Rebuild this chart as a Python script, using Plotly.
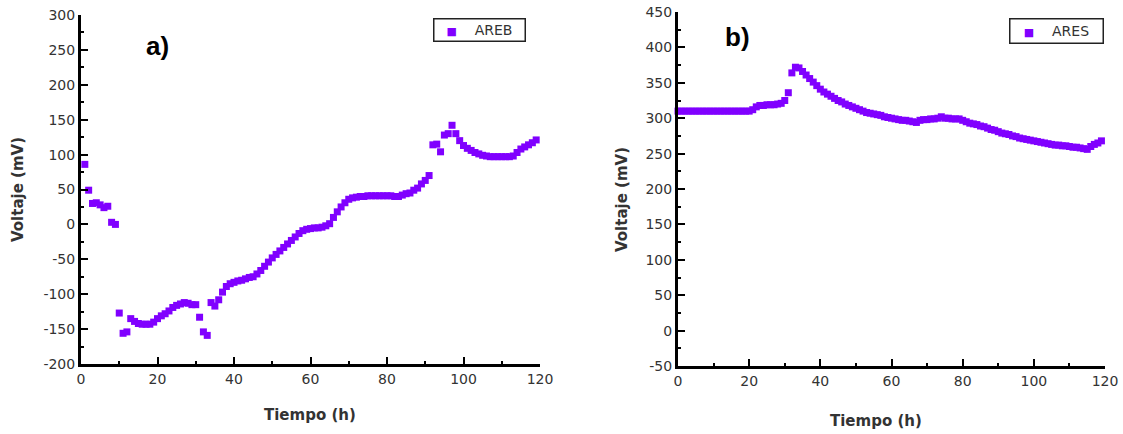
import plotly.graph_objects as go

OFF = 0
W, H = 1123, 434

# ---------------- data ----------------
areb_t = list(range(1, 120))
areb_v = [86, 49, 30, 31, 28, 24, 26, 3, 0, -127,
          -156, -154, -135, -139, -142, -143, -143, -143, -140, -135,
          -131, -128, -124, -119, -116, -114, -112, -113, -115, -115,
          -133, -154, -159, -112, -117, -108, -97, -89, -85, -83,
          -81, -80, -78, -76, -75, -71, -66, -60, -54, -48,
          -43, -38, -33, -28, -23, -18, -13, -9, -7, -6,
          -5, -5, -4, -2, 1, 10, 18, 25, 31, 36,
          38, 39, 40, 40, 41, 41, 41, 41, 41, 41,
          41, 40, 40, 42, 44, 45, 49, 52, 58, 63,
          70, 114, 115, 104, 128, 130, 142, 130, 120, 113,
          109, 106, 103, 101, 99, 98, 97, 97, 97, 97,
          97, 97, 98, 103, 108, 111, 114, 117, 121]

ares_t = list(range(0, 120))
ares_v = [310, 310, 310, 310, 310, 310, 310, 310, 310, 310,
          310, 310, 310, 310, 310, 310, 310, 310, 310, 310,
          310, 312, 316, 318, 318, 319, 319, 319, 320, 321,
          325, 336, 364, 372, 371, 366, 361, 356, 351, 346,
          341, 337, 334, 331, 328, 325, 323, 320, 318, 316,
          314, 312, 310, 308, 307, 306, 305, 304, 302, 301,
          300, 299, 298, 297, 297, 296, 295, 294, 297, 298,
          298, 299, 299, 300, 302, 300, 300, 299, 299, 299,
          297, 295, 293, 292, 291, 289, 288, 286, 284, 283,
          281, 279, 278, 277, 275, 274, 272, 271, 270, 269,
          268, 267, 266, 265, 264, 263, 262, 262, 261, 261,
          260, 259, 259, 258, 257, 256, 260, 263, 265, 268]

series_names = ["AREB", "ARES"]
x_ticks = [0, 20, 40, 60, 80, 100, 120]
y_ticks_a = [-200, -150, -100, -50, 0, 50, 100, 150, 200, 250, 300]
y_ticks_b = [-50, 0, 50, 100, 150, 200, 250, 300, 350, 400, 450]

PURPLE = "#8000FF"
TXT = "#333333"
FONT = "DejaVu Sans"

def px_x(p):
    return (p - OFF) / W

def px_y(p):
    return 1 - (p - OFF) / H

fig = go.Figure()

fig.add_trace(go.Scatter(x=areb_t, y=areb_v, mode="markers", name=series_names[0],
                         marker=dict(symbol="square", size=7, color=PURPLE),
                         xaxis="x", yaxis="y", cliponaxis=False, showlegend=False))
fig.add_trace(go.Scatter(x=ares_t, y=ares_v, mode="markers", name=series_names[1],
                         marker=dict(symbol="square", size=7, color=PURPLE),
                         xaxis="x2", yaxis="y2", cliponaxis=False, showlegend=False))

def xaxis(domain, anchor):
    return dict(domain=domain, anchor=anchor, range=[0, 120], automargin=False,
                tickvals=x_ticks, ticktext=[str(v) for v in x_ticks],
                ticklabeloverflow="allow",
                showline=True, linecolor="black", linewidth=3,
                ticks="inside", ticklen=7, tickwidth=2, tickcolor="black",
                minor=dict(ticks="inside", ticklen=3, tickwidth=2, tickcolor="black", dtick=10),
                showgrid=False, zeroline=False,
                tickfont=dict(family=FONT, size=14, color=TXT), fixedrange=True)

def yaxis(domain, anchor, rng, ticks):
    return dict(domain=domain, anchor=anchor, range=rng, automargin=False,
                tickvals=ticks, ticktext=[str(v) for v in ticks],
                ticklabeloverflow="allow",
                showline=True, linecolor="black", linewidth=3,
                ticks="inside", ticklen=7, tickwidth=2, tickcolor="black",
                minor=dict(ticks="inside", ticklen=3, tickwidth=2, tickcolor="black", dtick=25),
                showgrid=False, zeroline=False,
                tickfont=dict(family=FONT, size=14, color=TXT), fixedrange=True)

fig.update_layout(
    width=W, height=H,
    margin=dict(l=0, r=0, t=0, b=0, autoexpand=False),
    paper_bgcolor="white", plot_bgcolor="white",
    xaxis=xaxis([px_x(81), px_x(540)], "y"),
    yaxis=yaxis([px_y(364), px_y(15)], "x", [-200, 300], y_ticks_a),
    xaxis2=xaxis([px_x(678), px_x(1105)], "y2"),
    yaxis2=yaxis([px_y(366), px_y(12)], "x2", [-50, 450], y_ticks_b),
    showlegend=False,
    hovermode=False,
)

def legend_text(name):
    return ('<span style="color:%s;font-size:11px">■</span>&nbsp;&nbsp;&nbsp;&nbsp;%s'
            % (PURPLE, name))

annots = [
    dict(text="<b>a)</b>", x=px_x(157), y=px_y(46), font=dict(family="Liberation Sans", size=26, color="black")),
    dict(text="<b>b)</b>", x=px_x(737), y=px_y(37), font=dict(family="Liberation Sans", size=26, color="black")),
    dict(text="<b>Tiempo (h)</b>", x=px_x(310), y=px_y(415), font=dict(family=FONT, size=15, color=TXT)),
    dict(text="<b>Tiempo (h)</b>", x=px_x(876), y=px_y(421), font=dict(family=FONT, size=15, color=TXT)),
    dict(text="<b>Voltaje (mV)</b>", x=px_x(18), y=px_y(190), textangle=-90, font=dict(family=FONT, size=15, color=TXT)),
    dict(text="<b>Voltaje (mV)</b>", x=px_x(622), y=px_y(200), textangle=-90, font=dict(family=FONT, size=15, color=TXT)),
    dict(text=legend_text(series_names[0]), x=px_x(479), y=px_y(30), width=88, height=19, align="center",
         bordercolor="#222222", borderwidth=1.5, borderpad=1, bgcolor="white",
         font=dict(family=FONT, size=14, color=TXT)),
    dict(text=legend_text(series_names[1]), x=px_x(1056), y=px_y(31), width=90, height=21, align="center",
         bordercolor="#222222", borderwidth=1.5, borderpad=1, bgcolor="white",
         font=dict(family=FONT, size=14, color=TXT)),
]
for a in annots:
    fig.add_annotation(xref="paper", yref="paper", showarrow=False,
                       xanchor="center", yanchor="middle", **a)

fig.write_html("out.html",
               config={"displayModeBar": False, "staticPlot": True},
               post_script="document.body.style.margin='0';document.body.style.overflow='hidden';")
